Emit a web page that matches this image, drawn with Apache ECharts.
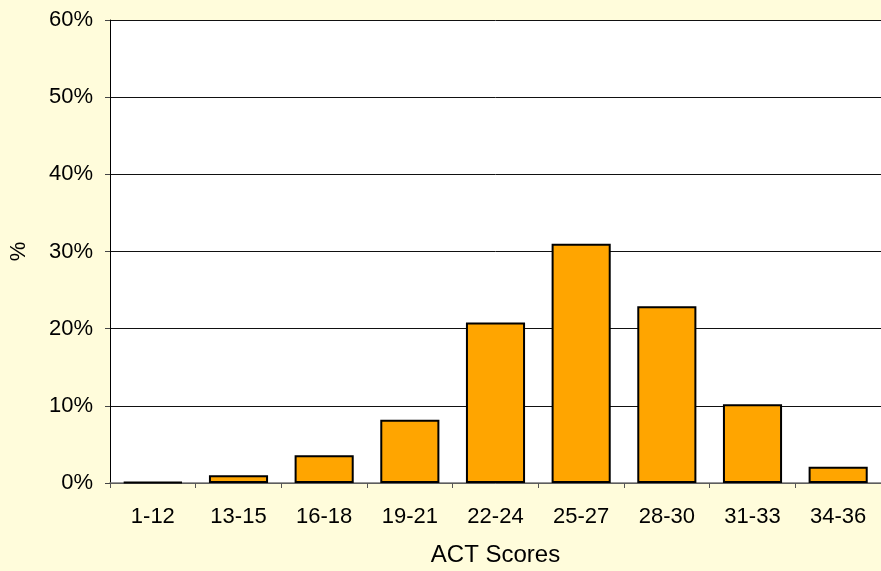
<!DOCTYPE html>
<html>
<head>
<meta charset="utf-8">
<title>ACT Scores</title>
<script src="https://cdn.jsdelivr.net/npm/echarts@6/dist/echarts.min.js"></script>
<style>
  html, body { margin: 0; padding: 0; background: #fffcdb; }
</style>
</head>
<body>
<div id="chart" style="width: 881px; height: 571px;"></div>
<script>
var scoreRanges = ['1-12', '13-15', '16-18', '19-21', '22-24', '25-27', '28-30', '31-33', '34-36'];
var percents = [0.1, 1.0, 3.6, 8.2, 20.8, 31.0, 22.9, 10.2, 2.1];

var chart = echarts.init(document.getElementById('chart'));
var font = 'Liberation Sans, Arial, sans-serif';

chart.setOption({
  backgroundColor: '#fffcdb',
  animation: false,
  grid: {
    left: 110, right: 0, top: 20, bottom: 88,
    containLabel: false, outerBoundsMode: 'none',
    backgroundColor: '#ffffff', show: true, borderWidth: 0
  },
  xAxis: {
    type: 'category',
    data: scoreRanges,
    name: 'ACT Scores',
    nameLocation: 'middle',
    nameGap: 60,
    nameTextStyle: { fontFamily: font, fontSize: 24, color: '#000' },
    axisLine: { lineStyle: { color: '#777', width: 1.5 } },
    axisTick: { show: true, length: 5, lineStyle: { color: '#555' } },
    axisLabel: { fontFamily: font, fontSize: 22, color: '#000', margin: 23 }
  },
  yAxis: {
    type: 'value',
    min: 0,
    max: 60,
    interval: 10,
    name: '%',
    nameLocation: 'middle',
    nameGap: 80,
    nameRotate: 90,
    nameTextStyle: { fontFamily: font, fontSize: 22, color: '#000' },
    axisLine: { show: true, lineStyle: { color: '#000', width: 1 } },
    axisTick: { show: true, length: 5, lineStyle: { color: '#444' } },
    axisLabel: { fontFamily: font, fontSize: 22, color: '#000', margin: 17, formatter: '{value}%' },
    splitLine: { lineStyle: { color: '#111', width: 1 } }
  },
  series: [{
    type: 'bar',
    data: percents,
    barWidth: '69%',
    itemStyle: { color: '#ffa500', borderColor: '#000', borderWidth: 2 }
  }]
});
</script>
</body>
</html>
